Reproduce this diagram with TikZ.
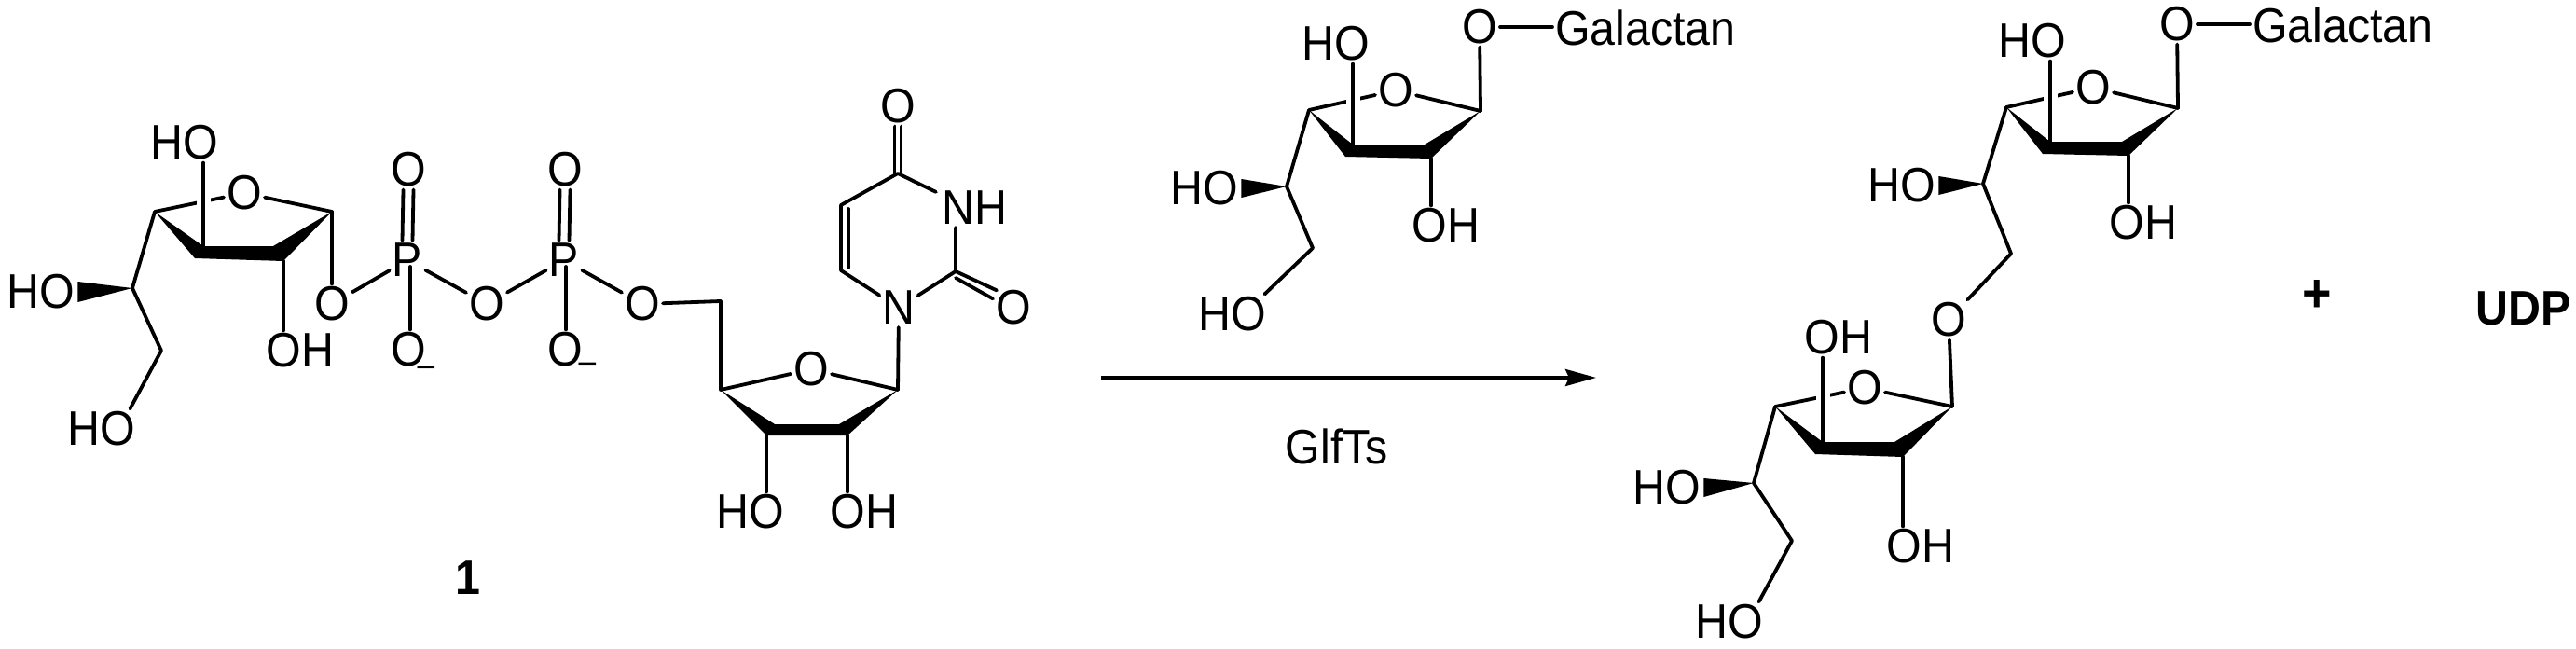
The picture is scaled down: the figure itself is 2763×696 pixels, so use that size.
\documentclass[tikz,border=0pt]{standalone}
\usepackage{fontspec}
\setmainfont[FakeStretch=0.93]{Liberation Sans}
\usetikzlibrary{arrows.meta}
\tikzset{
  atom/.style={font=\fontsize{52}{52}\selectfont, inner sep=3pt},
  heavy/.style={font=\fontsize{52}{52}\selectfont\bfseries, inner sep=3pt},
  bond/.style={line width=3.8pt, line cap=round, line join=round},
  crossbond/.style={bond, preaction={draw, white, line width=15pt, line cap=butt}},
  charge/.style={font=\fontsize{36}{36}\selectfont, inner sep=0pt},
}
\begin{document}
\begin{tikzpicture}[x=1pt,y=-1pt]
\useasboundingbox (0,0) rectangle (2763,696);

%left sugar
\coordinate (ac4) at (166,227); \coordinate (ac1) at (356,227);
\coordinate (atl) at (218,264); \coordinate (atr) at (293,264);
\coordinate (abl) at (209,277); \coordinate (abr) at (304,280);
\coordinate (as1) at (142,309); \coordinate (as2) at (173,376);
\node[atom] (aring) at (262,207) {O};
\node[atom] (aho1) at (198,153) {HO};
\node[atom] (aoh) at (322,376) {OH};
\node[atom] (aho2) at (44,313) {HO};
\node[atom] (aho3) at (109,460) {HO};
\node[atom] (ao1) at (356,326) {O};
\draw[bond] (ac4) -- (aring);
\draw[bond] (aring) -- (ac1);
\draw[crossbond] (atl) -- (atl |- aho1.south);
\fill (ac4) -- (abl) -- (abr) -- (ac1) -- (atr) -- (atl) -- cycle;
\draw[bond] (abr) -- (abr |- aoh.north);
\draw[bond] (ac1) -- (ao1);
\draw[bond] (ac4) -- (as1) -- (as2) -- ([xshift=-9pt]aho3.north east);
\fill (as1) -- ([yshift=-11pt]aho2.east) -- ([yshift=11pt]aho2.east) -- cycle;

%phosphates
\node[atom] (p1) at (437,279) {P};
\node[atom] (p2) at (605,279) {P};
\node[atom] (po1) at (438,182) {O};
\node[atom] (po2) at (606,182) {O};
\node[atom] (pm1) at (438,375) {O};
\node[atom] (pm2) at (606,375) {O};
\node[atom] (pb) at (522,326) {O};
\node[charge] (ch1) at (457,398) {--};
\node[charge] (ch2) at (630,394) {--};
\node[atom] (ao2) at (689,326) {O};
\draw[bond] (ao1) -- (p1);
\draw[bond] (p1) -- (pb);
\draw[bond] (pb) -- (p2);
\draw[bond] (p2) -- (ao2);
\draw[bond] ([xshift=2pt]pm1.north) -- ([shift={(3,7)}]p1.center);
\draw[bond] ([xshift=1pt]pm2.north) -- ([shift={(2,7)}]p2.center);
\draw[bond] ([xshift=-5.5pt]po1.south) -- ([xshift=-5.5pt]p1.north);
\draw[bond] ([xshift=5.5pt]po1.south) -- ([xshift=5.5pt]p1.north);
\draw[bond] ([xshift=-5.5pt]po2.south) -- ([xshift=-5.5pt]p2.north);
\draw[bond] ([xshift=5.5pt]po2.south) -- ([xshift=5.5pt]p2.north);

%ribose
\coordinate (rc5) at (773,323); \coordinate (rc4) at (773,418); \coordinate (rc1) at (963,418);
\coordinate (rtl) at (831,455); \coordinate (rtr) at (900,455);
\coordinate (rbl) at (822,467); \coordinate (rbr) at (909,467);
\node[atom] (rring) at (870,396) {O};
\node[atom] (rho) at (805,549) {HO};
\node[atom] (roh) at (927,549) {OH};
\draw[bond] (ao2) -- (rc5) -- (rc4) -- (rring);
\draw[bond] (rring) -- (rc1);
\fill (rc4) -- (rbl) -- (rbr) -- (rc1) -- (rtr) -- (rtl) -- cycle;
\draw[bond] (rbl) -- (rbl |- rho.north);
\draw[bond] (rbr) -- (rbr |- roh.north);

%uracil
\coordinate (uc6) at (902,290); \coordinate (uc5) at (902,220);
\coordinate (uc4) at (963,186); \coordinate (uc2) at (1025,291);
\node[atom] (un1) at (964,330) {N};
\node[atom] (un3) at (1045,223) {NH};
\node[atom] (uo4) at (963,114) {O};
\node[atom] (uo2) at (1087,330) {O};
\draw[bond] (rc1) -- (un1);
\draw[bond] (un1) -- (uc6) -- (uc5) -- (uc4) -- ([shift={(-3,4)}]un3.north west);
\draw[bond] (un3.south -| uc2) -- (uc2) -- (un1);
\draw[bond] ([shift={(8,4)}]uc5) -- ([shift={(8,-3)}]uc6);
\draw[bond] ([xshift=-3.5pt]uc4) -- ([xshift=-3.5pt]uo4.south);
\draw[bond] ([xshift=3.5pt]uc4) -- ([xshift=3.5pt]uo4.south);
\draw[bond] (uc2) -- ([shift={(4,3)}]uo2.north west);
\draw[bond] ([shift={(0,7)}]uc2) -- ([shift={(0,12)}]uo2.north west);

\node[heavy] (num) at (502,620) {1};

%reaction
\coordinate (ars) at (1181,405); \coordinate (are) at (1712,405);
\draw[line width=3.8pt, -{Stealth[length=33pt,width=18pt,inset=4pt]}] (ars) -- (are);
\node[atom] (enz) at (1434,479) {GlfTs};

%middle sugar
\coordinate (bc4) at (1404,118); \coordinate (bc1) at (1588,119);
\coordinate (btl) at (1451,155); \coordinate (btr) at (1528,155);
\coordinate (bbl) at (1443,168); \coordinate (bbr) at (1535,170);
\coordinate (bs1) at (1380,200); \coordinate (bs2) at (1408,266);
\node[atom] (bring) at (1497,97) {O};
\node[atom] (bo1) at (1587,29) {O};
\node[atom, anchor=base west] (bgal) at (1665,48) {Galactan};
\node[atom] (bho1) at (1433,47) {HO};
\node[atom] (boh) at (1551,242) {OH};
\node[atom] (bho2) at (1292,202) {HO};
\node[atom] (bho3) at (1322,337) {HO};
\draw[bond] (bo1) -- (bo1 -| bgal.west);
\draw[bond] (bc1) -- (bo1);
\draw[bond] (bc4) -- (bring);
\draw[bond] (bring) -- (bc1);
\draw[crossbond] (btl) -- (btl |- bho1.south);
\fill (bc4) -- (bbl) -- (bbr) -- (bc1) -- (btr) -- (btl) -- cycle;
\draw[bond] (bbr) -- (bbr |- boh.north);
\draw[bond] (bc4) -- (bs1) -- (bs2) -- ([xshift=-5pt]bho3.north east);
\fill (bs1) -- ([yshift=-10pt]bho2.east) -- ([yshift=10pt]bho2.east) -- cycle;

%right sugar
\coordinate (cc4) at (2152,115); \coordinate (cc1) at (2336,116);
\coordinate (ctl) at (2199,152); \coordinate (ctr) at (2276,152);
\coordinate (cbl) at (2191,165); \coordinate (cbr) at (2283,167);
\coordinate (cs1) at (2127,197); \coordinate (cs2) at (2157,272);
\node[atom] (cring) at (2245,94) {O};
\node[atom] (co1) at (2335,26) {O};
\node[atom, anchor=base west] (cgal) at (2413,45) {Galactan};
\node[atom] (cho1) at (2180,44) {HO};
\node[atom] (coh) at (2299,239) {OH};
\node[atom] (cho2) at (2040,199) {HO};
\node[atom] (clink) at (2090,343) {O};
\draw[bond] (co1) -- (co1 -| cgal.west);
\draw[bond] (cc1) -- (co1);
\draw[bond] (cc4) -- (cring);
\draw[bond] (cring) -- (cc1);
\draw[crossbond] (ctl) -- (ctl |- cho1.south);
\fill (cc4) -- (cbl) -- (cbr) -- (cc1) -- (ctr) -- (ctl) -- cycle;
\draw[bond] (cbr) -- (cbr |- coh.north);
\draw[bond] (cc4) -- (cs1) -- (cs2) -- (clink);
\fill (cs1) -- ([yshift=-10pt]cho2.east) -- ([yshift=10pt]cho2.east) -- cycle;

%lower sugar
\coordinate (dc4) at (1904,436); \coordinate (dc1) at (2094,436);
\coordinate (dtl) at (1955,474); \coordinate (dtr) at (2032,474);
\coordinate (dbl) at (1947,487); \coordinate (dbr) at (2041,490);
\coordinate (ds1) at (1881,518); \coordinate (ds2) at (1922,580);
\node[atom] (dring) at (2000,416) {O};
\node[atom] (doh1) at (1972,362) {OH};
\node[atom] (doh2) at (2060,586) {OH};
\node[atom] (dho2) at (1788,523) {HO};
\node[atom] (dho3) at (1855,667) {HO};
\draw[bond] (clink) -- (dc1);
\draw[bond] (dc4) -- (dring);
\draw[bond] (dring) -- (dc1);
\draw[crossbond] (dtl) -- (dtl |- doh1.south);
\fill (dc4) -- (dbl) -- (dbr) -- (dc1) -- (dtr) -- (dtl) -- cycle;
\draw[bond] (dbr) -- (dbr |- doh2.north);
\draw[bond] (dc4) -- (ds1) -- (ds2) -- ([xshift=-8pt]dho3.north east);
\fill (ds1) -- ([yshift=-10pt]dho2.east) -- ([yshift=10pt]dho2.east) -- cycle;

%products
\node[heavy, font=\fontsize{58}{58}\selectfont\bfseries] (plus) at (2485,317) {+};
\node[heavy] (udp) at (2707,331) {UDP};
\end{tikzpicture}
\end{document}
